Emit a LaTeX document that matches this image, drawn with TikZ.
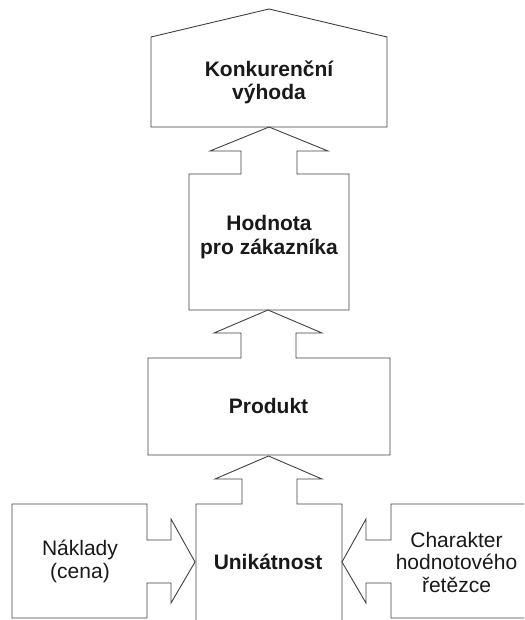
\documentclass[tikz,border=0pt]{standalone}
\usepackage{fontspec}
\setmainfont{Liberation Sans}
\begin{document}
\begin{tikzpicture}[x=1pt,y=-1pt,
  outl/.style={draw=black!75,line width=0.9pt,line join=miter},
  lbl/.style={font=\fontsize{21}{23}\selectfont,align=center,inner sep=0pt,anchor=base,text=black!90},
  blbl/.style={lbl,font=\fontsize{21}{23.5}\selectfont\bfseries}]
\useasboundingbox (0,0) rectangle (524,620);
\clip (0,0) rectangle (524,620);
% top pentagon
\draw[outl] (151,127) -- (151,37) -- (269,9) -- (387,37) -- (387,127) -- cycle;
% Hodnota box with arrow up
\draw[outl] (189,310) -- (189,174) -- (241,174) -- (241,151) -- (210,151) -- (269,127)
  -- (328,151) -- (297,151) -- (297,174) -- (349,174) -- (349,310) -- cycle;
% Produkt box with arrow up
\draw[outl] (148,455) -- (148,358) -- (241,358) -- (241,333) -- (214,333) -- (268,310)
  -- (322,333) -- (296,333) -- (296,358) -- (390,358) -- (390,455) -- cycle;
% Unikatnost box with arrow up (open bottom)
\draw[outl] (196,630) -- (196,504) -- (242,504) -- (242,479) -- (215,479) -- (268.5,456)
  -- (322,479) -- (297,479) -- (297,504) -- (342,504) -- (342,630);
% Naklady box with arrow right
\draw[outl] (147,540) -- (147,504) -- (12,504) -- (12,618) -- (147,618) -- (147,583)
  -- (171,583) -- (171,603) -- (195,562) -- (171,519) -- (171,540) -- cycle;
% Charakter box with arrow left (open right)
\draw[outl] (530,504) -- (391,504) -- (391,540) -- (366,540) -- (366,519) -- (342,562)
  -- (366,603) -- (366,583) -- (391,583) -- (391,618) -- (530,618);
% texts (base anchor = baseline of last line)
\node[blbl] (kv) at (269,100) {Konkurenční\\výhoda};
\node[blbl] (hz) at (269,254) {Hodnota\\pro zákazníka};
\node[blbl] (pr) at (268.5,413) {Produkt};
\node[blbl] (un) at (268,569) {Unikátnost};
\node[lbl] (nk) at (80,578) {Náklady\\(cena)};
\node[lbl,font=\fontsize{21}{22.5}\selectfont] (ch) at (456.5,592) {Charakter\\hodnotového\\řetězce};
\end{tikzpicture}
\end{document}
